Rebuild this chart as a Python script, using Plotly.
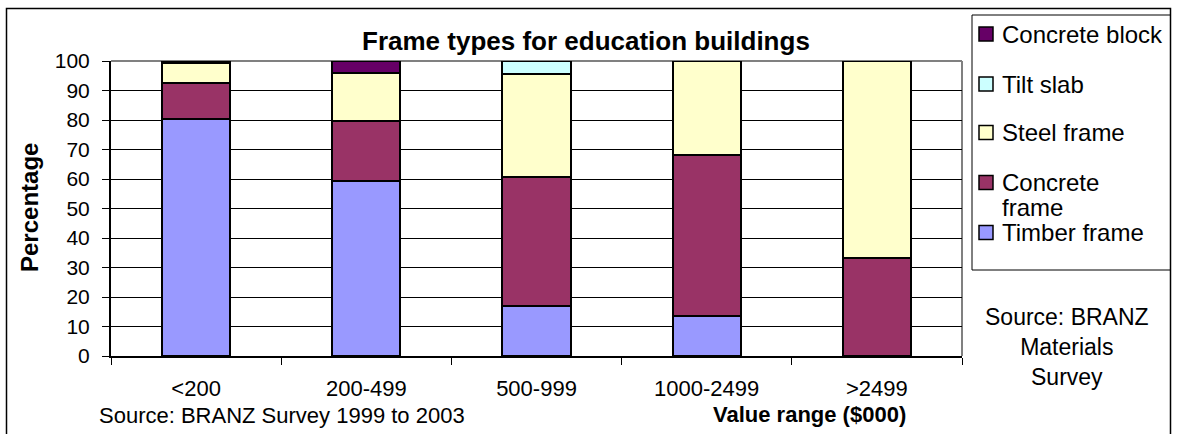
import plotly.graph_objects as go

# Value ranges ($000) and share of each frame type (%)
categories = ["<200", "200-499", "500-999", "1000-2499", ">2499"]
timber_frame = [80.2, 59.3, 17.1, 13.6, 0]
concrete_frame = [12.4, 20.4, 43.7, 54.5, 33.3]
steel_frame = [6.6, 16.1, 34.8, 31.9, 66.7]
tilt_slab = [0, 0, 4.4, 0, 0]
concrete_block = [0.8, 4.2, 0, 0, 0]

series_names = ["Timber frame", "Concrete<br>frame", "Steel frame", "Tilt slab", "Concrete block"]
series_values = [timber_frame, concrete_frame, steel_frame, tilt_slab, concrete_block]
series_colors = ["#9999FF", "#993366", "#FFFFCC", "#CCFFFF", "#660066"]

W, H = 1178, 434
PLOT_L, PLOT_R, PLOT_T, PLOT_B = 111, 962, 61, 356
FONT = "Liberation Sans, Arial, sans-serif"


def px_x(px):
    return (px - PLOT_L) / (PLOT_R - PLOT_L)


def px_y(py):
    return (PLOT_B - py) / (PLOT_B - PLOT_T)


fig = go.Figure()
for name, vals, col in zip(series_names, series_values, series_colors):
    fig.add_trace(go.Bar(
        x=categories, y=vals, name=name.replace("<br>", " "),
        marker=dict(color=col, line=dict(color="black", width=2)),
        width=0.4, showlegend=False,
    ))

shapes = []
annotations = []

# plot-area frame: grey top and right edges
shapes.append(dict(type="line", xref="paper", yref="paper", x0=0, x1=1, y0=1, y1=1,
                   line=dict(color="#808080", width=2), layer="between"))
shapes.append(dict(type="line", xref="paper", yref="paper", x0=1, x1=1, y0=0, y1=1,
                   line=dict(color="#808080", width=2), layer="between"))

# outer chart border
shapes.append(dict(type="rect", xref="paper", yref="paper",
                   x0=px_x(6.5), x1=px_x(1170.5), y0=px_y(445), y1=px_y(8.5),
                   line=dict(color="black", width=1.5), layer="above"))

# legend box
shapes.append(dict(type="rect", xref="paper", yref="paper",
                   x0=px_x(972), x1=px_x(1170.5), y0=px_y(270), y1=px_y(15),
                   line=dict(color="black", width=1), layer="above"))

# legend entries, top to bottom
legend_rows = [34, 84, 132.5, 182.5, 232.5]
for (name, col), cy in zip(list(zip(series_names, series_colors))[::-1], legend_rows):
    shapes.append(dict(type="rect", xref="paper", yref="paper",
                       x0=px_x(979), x1=px_x(993), y0=px_y(cy + 7), y1=px_y(cy - 7),
                       fillcolor=col, line=dict(color="black", width=1.5), layer="above"))
    for i, line in enumerate(name.split("<br>")):
        annotations.append(dict(text=line, xref="paper", yref="paper",
                                x=px_x(1000), y=px_y(cy + 25 * i), xanchor="left", yanchor="middle",
                                showarrow=False, font=dict(family=FONT, size=24, color="black")))

# title
annotations.append(dict(text="<b>Frame types for education buildings</b>", xref="paper", yref="paper",
                        x=px_x(586), y=px_y(41), xanchor="center", yanchor="middle", showarrow=False,
                        font=dict(family=FONT, size=26, color="black")))
# axis titles
annotations.append(dict(text="<b>Percentage</b>", xref="paper", yref="paper",
                        x=px_x(29), y=px_y(208), xanchor="center", yanchor="middle", textangle=-90,
                        showarrow=False, font=dict(family=FONT, size=24, color="black")))
annotations.append(dict(text="<b>Value range ($000)</b>", xref="paper", yref="paper",
                        x=px_x(908), y=px_y(414), xanchor="right", yanchor="middle",
                        showarrow=False, font=dict(family=FONT, size=22, color="black")))
# source notes
annotations.append(dict(text="Source: BRANZ Survey 1999 to 2003", xref="paper", yref="paper",
                        x=px_x(97), y=px_y(415), xanchor="left", yanchor="middle",
                        showarrow=False, font=dict(family=FONT, size=22, color="black")))
annotations.append(dict(text="Source: BRANZ<br>Materials<br>Survey", xref="paper", yref="paper",
                        x=px_x(1067), y=px_y(347), xanchor="center", yanchor="middle", align="center",
                        showarrow=False, font=dict(family=FONT, size=23, color="black")))

fig.update_layout(
    width=W, height=H,
    margin=dict(l=PLOT_L, r=W - PLOT_R, t=PLOT_T, b=H - PLOT_B, pad=0),
    barmode="stack",
    paper_bgcolor="white", plot_bgcolor="white",
    font=dict(family=FONT, size=21, color="black"),
    shapes=shapes, annotations=annotations,
    xaxis=dict(
        type="category", tickson="boundaries", ticks="outside", ticklen=7, tickcolor="black",
        tickwidth=1, showline=True, linecolor="black", linewidth=2, showgrid=False,
        tickfont=dict(family=FONT, size=22, color="black"), ticklabelstandoff=12,
        fixedrange=True,
    ),
    yaxis=dict(
        range=[0, 100], dtick=10, ticks="outside", ticklen=7, tickcolor="black", tickwidth=1,
        showline=True, linecolor="black", linewidth=2, showgrid=True, gridcolor="black",
        gridwidth=1, zeroline=False, tickfont=dict(family=FONT, size=21, color="black"),
        ticklabelstandoff=8, fixedrange=True,
    ),
)

fig.write_html("out.html")
